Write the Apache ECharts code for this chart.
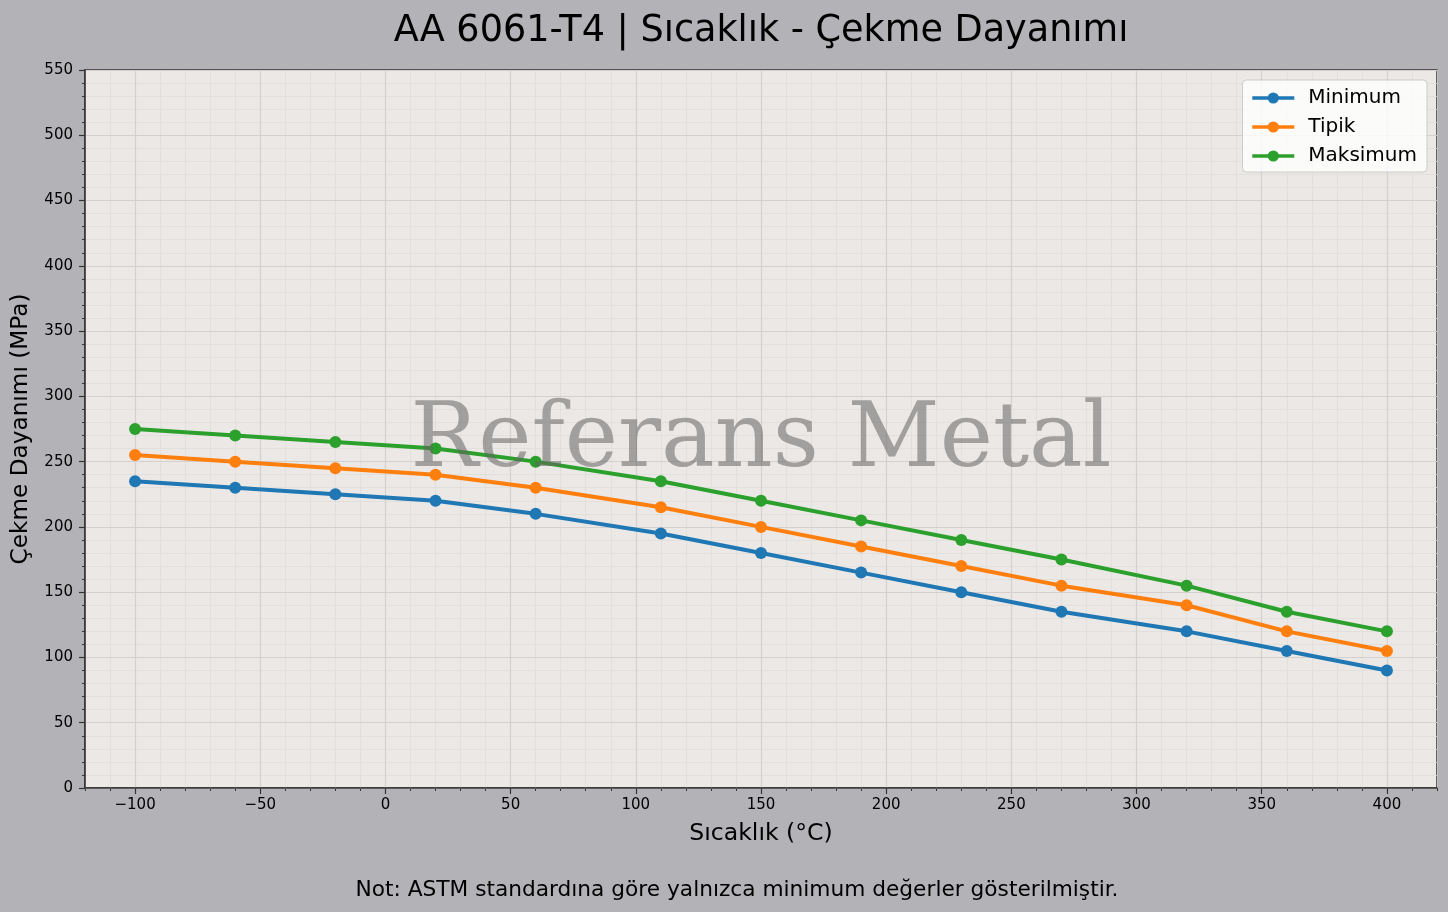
<!DOCTYPE html>
<html>
<head>
<meta charset="utf-8">
<script src="https://cdn.jsdelivr.net/npm/echarts@6/dist/echarts.min.js"></script>
<style>
html,body{margin:0;padding:0;background:#b3b2b7;}
#main{width:1448px;height:912px;}
</style>
</head>
<body>
<div id="main"></div>
<script>
const temps = [-100, -60, -20, 20, 60, 110, 150, 190, 230, 270, 320, 360, 400];
const minimum = [235, 230, 225, 220, 210, 195, 180, 165, 150, 135, 120, 105, 90];
const tipik = [255, 250, 245, 240, 230, 215, 200, 185, 170, 155, 140, 120, 105];
const maksimum = [275, 270, 265, 260, 250, 235, 220, 205, 190, 175, 155, 135, 120];
const xTicks = [-100, -50, 0, 50, 100, 150, 200, 250, 300, 350, 400];
const yTicks = [0, 50, 100, 150, 200, 250, 300, 350, 400, 450, 500, 550];
const seriesNames = ['Minimum', 'Tipik', 'Maksimum'];

const FONT = 'DejaVu Sans';
const pair = arr => temps.map((t, i) => [t, arr[i]]);
const fmt = v => String(v).replace('-', '\u2212');

const chart = echarts.init(document.getElementById('main'), null, {renderer: 'canvas'});

const mkSeries = (name, arr, color) => ({
  name: name,
  type: 'line',
  xAxisIndex: 0,
  yAxisIndex: 0,
  data: pair(arr),
  symbol: 'circle',
  symbolSize: 12,
  showSymbol: true,
  itemStyle: {color: color},
  lineStyle: {color: color, width: 4},
  emphasis: {disabled: true},
  z: 5,
  animation: false
});

chart.setOption({
  backgroundColor: '#b3b2b7',
  animation: false,
  textStyle: {fontFamily: FONT},
  title: {
    text: 'AA 6061-T4 | Sıcaklık - Çekme Dayanımı',
    left: 756,
    top: 8,
    textAlign: 'center',
    textStyle: {fontFamily: FONT, fontSize: 36.6, fontWeight: 'normal', color: '#000'}
  },
  legend: {
    data: seriesNames,
    orient: 'vertical',
    right: 21,
    top: 80,
    padding: [8, 10, 6, 8],
    itemGap: 9,
    itemWidth: 42,
    itemHeight: 14,
    lineStyle: {width: 3.5},
    backgroundColor: 'rgba(255,255,255,0.8)',
    borderColor: '#cccccc',
    borderWidth: 1,
    borderRadius: 4,
    textStyle: {fontFamily: FONT, fontSize: 20, color: '#000', padding: [0, 0, 0, 9], lineHeight: 20},
    z: 20
  },
  grid: {
    show: true,
    left: 85,
    right: 11,
    top: 70,
    bottom: 124,
    backgroundColor: '#ebe8e6',
    borderColor: '#333333',
    borderWidth: 1.5,
    containLabel: false
  },
  xAxis: [
    {
      type: 'value',
      gridIndex: 0,
      position: 'bottom',
      min: -120,
      max: 420,
      name: 'Sıcaklık (°C)',
      nameLocation: 'middle',
      nameGap: 34,
      nameTextStyle: {fontFamily: FONT, fontSize: 23.6, color: '#000'},
      axisLine: {show: true, onZero: false, lineStyle: {color: '#333333', width: 1.5}},
      axisTick: {show: true, customValues: xTicks, length: 6, lineStyle: {color: '#333333', width: 1.2}},
      axisLabel: {show: true, customValues: xTicks, formatter: fmt, margin: 10, fontFamily: FONT, fontSize: 15, color: '#000'},
      splitLine: {show: true, lineStyle: {color: '#d3d0ce', width: 1.2}},
      z: 3
    },
    {
      type: 'value',
      gridIndex: 0,
      position: 'bottom',
      min: -120,
      max: 420,
      interval: 10,
      axisLine: {show: false, onZero: false},
      axisTick: {show: true, length: 3, lineStyle: {color: '#333333', width: 1}},
      axisLabel: {show: false},
      splitLine: {show: true, lineStyle: {color: '#e0dddb', width: 0.8}},
      z: 2
    }
  ],
  yAxis: [
    {
      type: 'value',
      gridIndex: 0,
      min: 0,
      max: 550,
      interval: 50,
      name: 'Çekme Dayanımı (MPa)',
      nameLocation: 'middle',
      nameGap: 53,
      nameTextStyle: {fontFamily: FONT, fontSize: 23.2, color: '#000'},
      axisLine: {show: true, onZero: false, lineStyle: {color: '#333333', width: 1.5}},
      axisTick: {show: true, length: 6, lineStyle: {color: '#333333', width: 1.2}},
      minorTick: {show: true, splitNumber: 5, length: 3, lineStyle: {color: '#333333', width: 1}},
      axisLabel: {show: true, formatter: fmt, margin: 12, fontFamily: FONT, fontSize: 15, color: '#000'},
      splitLine: {show: true, lineStyle: {color: '#d3d0ce', width: 1.2}},
      minorSplitLine: {show: true, lineStyle: {color: '#e0dddb', width: 0.8}},
      z: 3
    }
  ],
  series: [
    mkSeries(seriesNames[0], minimum, '#1f77b4'),
    mkSeries(seriesNames[1], tipik, '#ff7f0e'),
    mkSeries(seriesNames[2], maksimum, '#2ca02c')
  ],
  graphic: [
    {
      type: 'text',
      x: 761,
      y: 443,
      z: 100,
      silent: true,
      style: {
        text: 'Referans Metal',
        font: '90px "DejaVu Serif"',
        fill: 'rgba(100,100,100,0.55)',
        textAlign: 'center',
        textVerticalAlign: 'middle'
      }
    },
    {
      type: 'text',
      x: 737,
      y: 890,
      z: 100,
      silent: true,
      style: {
        text: 'Not: ASTM standardına göre yalnızca minimum değerler gösterilmiştir.',
        font: '21.7px "DejaVu Sans"',
        fill: '#000',
        textAlign: 'center',
        textVerticalAlign: 'middle'
      }
    }
  ]
});
</script>
</body>
</html>
